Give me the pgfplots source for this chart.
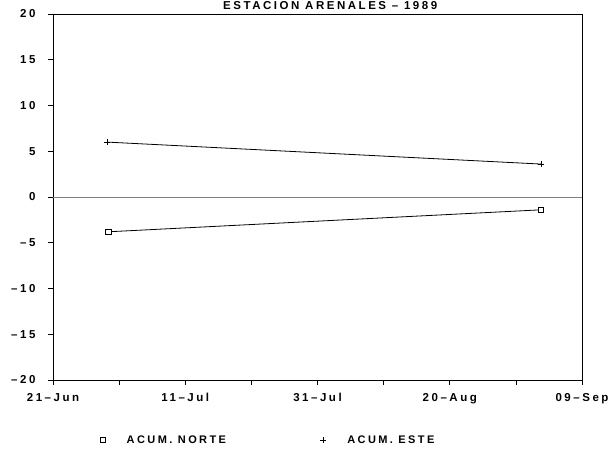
\documentclass[border=0pt]{standalone}
\usepackage{pgfplots}
\pgfplotsset{compat=1.18}
\usepackage{fontspec}
\setmainfont{Liberation Sans}[LetterSpace=22]
\begin{document}
\begin{tikzpicture}[font=\bfseries]
\path[use as bounding box] (-53pt,-76pt) rectangle (562pt,380pt);
\begin{axis}[
  scale only axis, width=529pt, height=366pt,
  xmin=0, xmax=80, ymin=-20, ymax=20,
  xtick pos=bottom, ytick pos=left,
  xtick={0,10,...,80},
  xticklabels={21–Jun,,11–Jul,,31–Jul,,20–Aug,,09–Sep},
  ytick={-20,-15,...,20},
  yticklabels={–20,–15,–10,–5,0,5,10,15,20},
  tick align=outside, major tick length=5pt,
  tick style={black, line width=0.7pt},
  axis line style={line width=0.8pt},
  ticklabel style={font=\bfseries\fontsize{11.5}{13}\selectfont},
  xticklabel style={yshift=-5pt},
  yticklabel style={xshift=-9pt},
  title={ESTACION ARENALES – 1989},
  every axis title/.style={at={(0.524,1)}, anchor=north, inner sep=0pt,
    yshift=12.5pt, font=\bfseries\fontsize{11.5}{13}\selectfont},
  legend columns=2,
  legend style={draw=none, at={(0.083,-0.164)}, anchor=west,
    font=\bfseries\fontsize{11}{12}\selectfont,
    /tikz/every even column/.append style={column sep=92pt}},
  legend image code/.code={\path[draw=none] (0pt,0pt) -- (22pt,0pt);
    \draw[#1] plot[only marks] coordinates {(0pt,0pt)};},
]
\draw[gray, line width=1pt] (axis cs:0,0) -- (axis cs:80,0);
\addplot[black, line width=0.8pt, mark=square*, mark options={fill=white, mark size=2.6pt, line width=0.9pt}]
  coordinates {(8.4,-3.8) (73.8,-1.4)};
\addlegendentry{ACUM. NORTE}
\addplot[black, line width=0.8pt, mark=+, mark options={mark size=3.2pt, line width=1pt}]
  coordinates {(8.2,6.0) (73.8,3.6)};
\addlegendentry{ACUM. ESTE}
\end{axis}
\end{tikzpicture}
\end{document}
